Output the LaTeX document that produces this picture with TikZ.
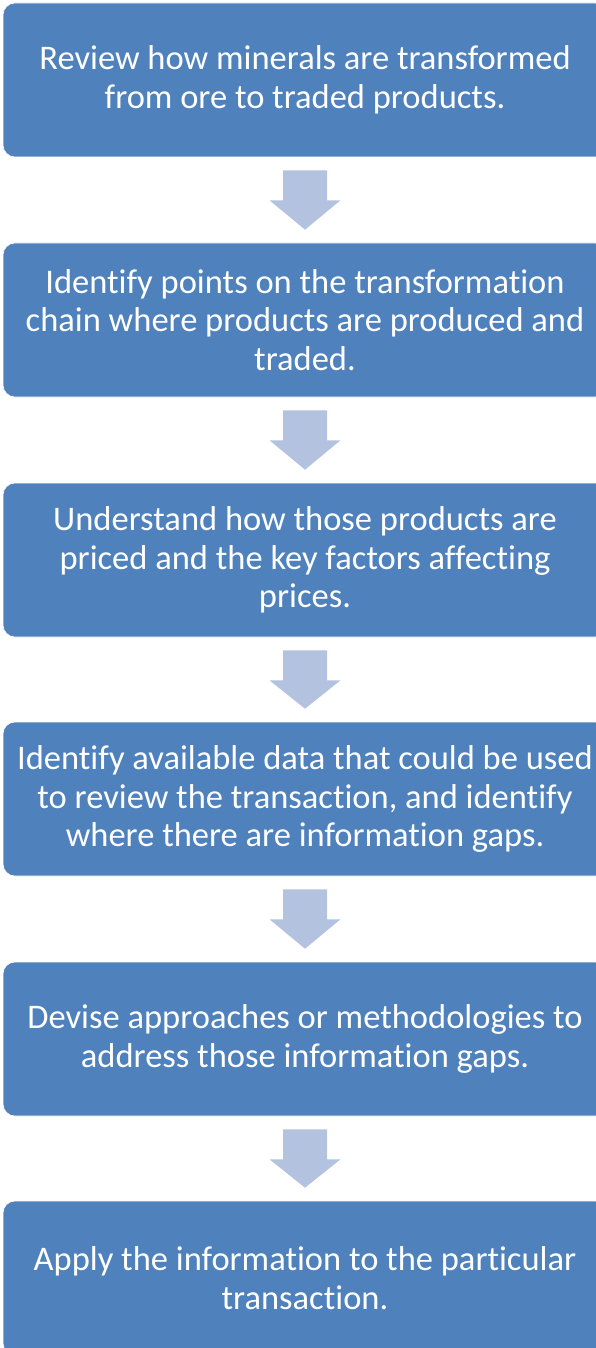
\documentclass[tikz,border=0pt]{standalone}
\usepackage{fontspec}
\setmainfont{Carlito}[Ligatures={NoCommon}]
\usetikzlibrary{calc}
\definecolor{stepblue}{HTML}{4F81BD}
\definecolor{arrowblue}{HTML}{B3C3DF}
\begin{document}
\begin{tikzpicture}[x=1pt,y=-1pt,
  stepbox/.style={fill=stepblue, draw=white, line width=0.6pt, rounded corners=12pt,
    minimum width=604pt, minimum height=154pt, inner sep=0pt,
    text=white, align=center, font=\fontsize{34.5}{38.5}\selectfont},
  flowarrow/.style={fill=arrowblue}]
\useasboundingbox (0,0) rectangle (596,1348);
\clip (0,0) rectangle (596,1348);
\fill[white] (0,0) rectangle (596,1348);

% the six steps, one box each
\node[stepbox] (s1) at (305,80)   {Review how minerals are transformed\\from ore to traded products.};
\node[stepbox] (s2) at (305,320)  {Identify points on the transformation\\chain where products are produced and\\traded.};
\node[stepbox] (s3) at (305,560)  {Understand how those products are\\priced and the key factors affecting\\prices.};
\node[stepbox] (s4) at (305,799)  {Identify available data that could be used\\to review the transaction, and identify\\where there are information gaps.};
\node[stepbox] (s5) at (305,1039) {Devise approaches or methodologies to\\address those information gaps.};
\node[stepbox] (s6) at (305,1278) {Apply the information to the particular\\transaction.};

% block arrows from each box down to the next
\foreach \a/\b in {s1/s2, s2/s3, s3/s4, s4/s5, s5/s6} {
  \fill[flowarrow]
    ($(\a.south)+(-22,13)$) -- ($(\a.south)+(22,13)$) --
    ($(\a.south)+(22,43)$) -- ($(\a.south)+(35.5,43)$) --
    ($(\b.north)+(0,-13)$) --
    ($(\a.south)+(-35.5,43)$) -- ($(\a.south)+(-22,43)$) -- cycle;
}
\end{tikzpicture}
\end{document}
